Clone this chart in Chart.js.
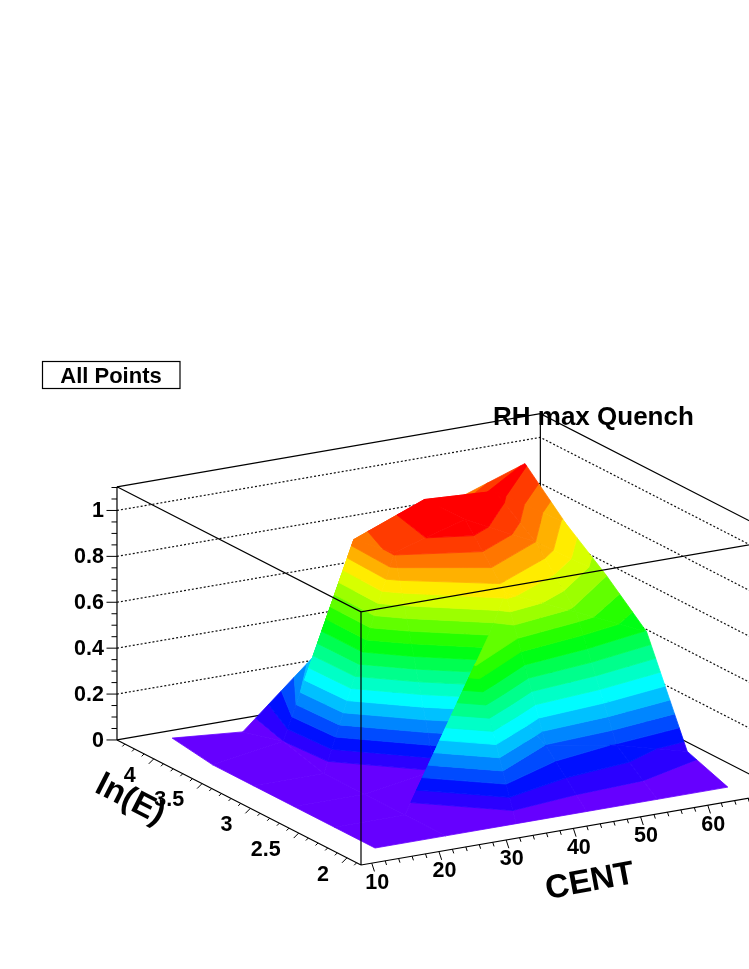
<!DOCTYPE html>
<html><head><meta charset="utf-8">
<style>html,body{margin:0;padding:0;background:#fff}canvas{display:block}</style>
<script src="https://cdn.jsdelivr.net/npm/chart.js@4/dist/chart.umd.min.js"></script>
</head><body><canvas id="c" width="749" height="969"></canvas>
<script>
// ---- data ----
const centNodes = [13.65, 24.15, 34.65, 45.15, 55.65, 66.15];
const lnENodes  = [2.075, 2.495, 2.915, 3.335, 3.755, 4.175];
const zRow0 = [0, 0, 0, 0, 0, 0];
const zRow1 = [0, 0, 0.608, 0.195, 0.145, 0.065];
const zRow2 = [0, 0, 0.05, 0.77, 0.635, 0.495];
const zRow3 = [0, 0, 0.91, 1.0, 0.85, 0.652];
const zRow4 = [0, 0.05, 0.876, 0.997, 0.98, 0.788];
const zRow5 = [0.026, 0, 0.274, 0.72, 0.85, 0.957];
const zRows = [zRow0, zRow1, zRow2, zRow3, zRow4, zRow5];
const centTicks = [10, 20, 30, 40, 50, 60];
const lnETicks = [2, 2.5, 3, 3.5, 4];
const lnETickText = ['2', '2.5', '3', '3.5', '4'];
const zTicks = [0, 0.2, 0.4, 0.6, 0.8, 1];
const zTickText = ['0', '0.2', '0.4', '0.6', '0.8', '1'];
const centRange = [8.4, 71.4];
const lnERange = [1.855, 4.381];
const zRange = [0, 1.103];
const zStep = 0.05, bandCount = 20;

// ---- fixed oblique view of the 3D box ----
const view = {ox:361, oy:865, cx:6.72, cy:-1.16, ex:-96.6, ey:-49.5, zy:-229.5};
function P(c, e, z){
  const a = c - centRange[0], b = e - lnERange[0];
  return {x: view.ox + a*view.cx + b*view.ex, y: view.oy + a*view.cy + b*view.ey + z*view.zy};
}
function bandColor(k){ return `hsl(${264*(1-k/(bandCount-1))},100%,50%)`; }

function clipZ(poly, limit, keepAbove){
  const out = [];
  for(let n=0;n<poly.length;n++){
    const A = poly[n], B = poly[(n+1)%poly.length];
    const inA = keepAbove ? A.z>=limit : A.z<=limit;
    const inB = keepAbove ? B.z>=limit : B.z<=limit;
    if(inA) out.push(A);
    if(inA!==inB){
      const t=(limit-A.z)/(B.z-A.z);
      out.push({c:A.c+t*(B.c-A.c), e:A.e+t*(B.e-A.e), z:limit});
    }
  }
  return out;
}

const layers = [];
function lineSet(segments, opts){
  const data = [];
  segments.forEach(s=>{ s.forEach(p=>data.push(p)); data.push({x:null,y:null}); });
  layers.push(Object.assign({data, showLine:true, pointRadius:0, borderColor:'#000', borderWidth:1.2, fill:false, spanGaps:false, tension:0}, opts||{}));
}
// back walls
const bl=P(centRange[0],lnERange[1],0), bb=P(centRange[1],lnERange[1],0), br=P(centRange[1],lnERange[0],0);
const tl=P(centRange[0],lnERange[1],zRange[1]), tb=P(centRange[1],lnERange[1],zRange[1]), tr=P(centRange[1],lnERange[0],zRange[1]);
const f0=P(centRange[0],lnERange[0],0), ft=P(centRange[0],lnERange[0],zRange[1]);
lineSet(zTicks.filter(z=>z>0).map(z=>[
  P(centRange[0],lnERange[1],z),P(centRange[1],lnERange[1],z),P(centRange[1],lnERange[0],z)
]),{borderDash:[2,2],borderWidth:1.2,borderColor:'#111'});
lineSet([[bl,bb,br],[tl,tb,tr],[bb,tb]]);

// surface: back to front, one polygon per colour band per cell
for(let j=lnENodes.length-2;j>=0;j--){
  for(let i=centNodes.length-2;i>=0;i--){
    const quad=[
      {c:centNodes[i],e:lnENodes[j],z:zRows[j][i]},
      {c:centNodes[i+1],e:lnENodes[j],z:zRows[j][i+1]},
      {c:centNodes[i+1],e:lnENodes[j+1],z:zRows[j+1][i+1]},
      {c:centNodes[i],e:lnENodes[j+1],z:zRows[j+1][i]}
    ];
    for(let k=0;k<bandCount;k++){
      let poly=clipZ(quad,k*zStep,true);
      if(poly.length) poly=clipZ(poly,(k+1)*zStep,false);
      if(poly.length<3) continue;
      const pts=poly.map(v=>P(v.c,v.e,v.z)); pts.push(pts[0]);
      layers.push({data:pts,showLine:true,pointRadius:0,borderWidth:0.8,borderColor:bandColor(k),
        backgroundColor:bandColor(k),fill:'shape',tension:0});
    }
  }
}
// front box lines and axes
lineSet([[tl,ft,tr],[ft,f0],[bl,tl],[f0,bl],[f0,br]]);
const tickSegs=[];
for(let n=0;n<=22;n++){ const v=n*0.05, A=P(centRange[0],lnERange[1],v), L=n%4===0?10.5:5.5;
  tickSegs.push([A,{x:A.x-L,y:A.y}]); }
for(let n=10;n<=70;n+=2){ const A=P(n,lnERange[0],0), s=(n%10===0)?1:0.5;
  tickSegs.push([A,{x:A.x+2.7*s,y:A.y+8.3*s}]); }
for(let n=19;n<=43;n++){ const A=P(centRange[0],n/10,0), s=(n%5===0)?1:0.5;
  tickSegs.push([A,{x:A.x-5*s,y:A.y+5*s}]); }
lineSet(tickSegs,{borderWidth:1});

const textPlugin={id:'labels',afterDraw(chart){
  const ctx=chart.ctx, X=chart.scales.x, Y=chart.scales.y;
  const px=p=>({x:X.getPixelForValue(p.x),y:Y.getPixelForValue(p.y)});
  ctx.save(); ctx.fillStyle='#000'; ctx.textBaseline='middle';
  ctx.font='bold 21.5px "Liberation Sans"';
  ctx.textAlign='right';
  zTicks.forEach((z,n)=>{const p=px(P(centRange[0],lnERange[1],z)); ctx.fillText(zTickText[n],p.x-13,p.y+1);});
  lnETicks.forEach((v,n)=>{const p=px(P(centRange[0],v,0)); ctx.fillText(lnETickText[n],p.x-18,p.y+17);});
  ctx.textAlign='center';
  centTicks.forEach(v=>{const p=px(P(v,lnERange[0],0)); ctx.fillText(String(v),p.x+5.5,p.y+19.5);});
  ctx.font='bold 33px "Liberation Sans"';
  ctx.save(); ctx.translate(590,882); ctx.rotate(-10.5*Math.PI/180); ctx.fillText('CENT',0,0); ctx.restore();
  ctx.save(); ctx.translate(130,800); ctx.rotate(27*Math.PI/180); ctx.fillText('ln(E)',0,0); ctx.restore();
  ctx.textAlign='left'; ctx.textBaseline='alphabetic';
  ctx.font='bold 26px "Liberation Sans"'; ctx.fillText('RH max Quench',493,425);
  ctx.lineWidth=1.2; ctx.strokeStyle='#000'; ctx.strokeRect(42.5,361.5,137.5,27);
  ctx.font='bold 22px "Liberation Sans"'; ctx.textAlign='center'; ctx.fillText('All Points',111,383);
  ctx.restore();
}};

new Chart(document.getElementById('c'),{
  type:'scatter',
  data:{datasets:layers.slice().reverse()},
  options:{responsive:false,animation:false,events:[],
    layout:{padding:0},
    plugins:{legend:{display:false},tooltip:{enabled:false},title:{display:false}},
    scales:{
      x:{type:'linear',min:0,max:749,display:false},
      y:{type:'linear',min:0,max:969,reverse:true,display:false}
    }},
  plugins:[textPlugin]
});
</script></body></html>
